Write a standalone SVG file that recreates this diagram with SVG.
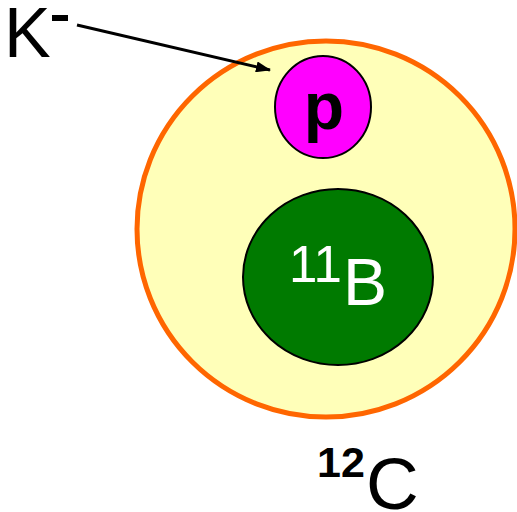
<svg xmlns="http://www.w3.org/2000/svg" width="517" height="512" viewBox="0 0 517 512">
<style>
text{font-family:"Liberation Sans",Arial,sans-serif}
.b{font-weight:bold}
</style>
<defs>
<marker id="ah" markerWidth="15" markerHeight="11" refX="14" refY="5.5" orient="auto" markerUnits="userSpaceOnUse" viewBox="0 0 15 11">
<path d="M0,0 L15,5.5 L0,11 Z" fill="#000"/>
</marker>
</defs>
<rect width="517" height="512" fill="#fff"/>
<g id="nucleus">
<ellipse cx="326" cy="229" rx="189" ry="188" fill="#ffffb9" stroke="#ff6600" stroke-width="5"/>
</g>
<g id="proton">
<ellipse cx="323" cy="107" rx="48" ry="51" fill="#ff00ff" stroke="#000" stroke-width="2"/>
<text x="324" y="129" font-size="66" class="b" text-anchor="middle">p</text>
</g>
<g id="boron">
<ellipse cx="338" cy="277" rx="95" ry="88" fill="#007a00" stroke="#000" stroke-width="2"/>
<text x="289" y="282" font-size="51" fill="#fff">11</text>
<text x="343" y="305" font-size="66" fill="#fff">B</text>
</g>
<g id="kaon">
<text x="4" y="57" font-size="70">K</text>
<rect x="52" y="15" width="16" height="6" fill="#000"/>
</g>
<g id="carbon">
<text x="317" y="477" font-size="43" class="b">12</text>
<text x="366" y="509" font-size="73">C</text>
</g>
<g id="connectors">
<line x1="77" y1="25" x2="270" y2="70" stroke="#000" stroke-width="3" marker-end="url(#ah)"/>
</g>
</svg>
